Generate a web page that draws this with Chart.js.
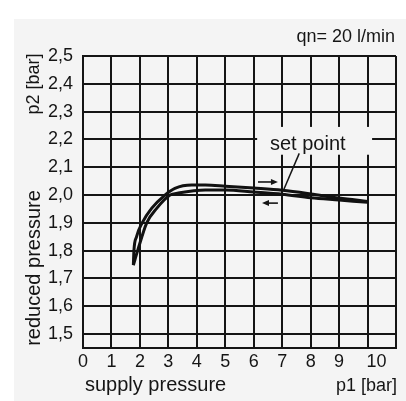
<!DOCTYPE html>
<html>
<head>
<meta charset="utf-8">
<script src="https://cdn.jsdelivr.net/npm/chart.js@4/dist/chart.umd.min.js"></script>
<style>
  html, body { margin: 0; padding: 0; background: #ffffff; }
  #wrap { width: 406px; height: 401px; position: relative; }
</style>
</head>
<body>
<div id="wrap"><canvas id="c" width="406" height="401"></canvas></div>
<script>
// Supply pressure p1 [bar] vs. reduced pressure p2 [bar], qn = 20 l/min
const xTicks = [0, 1, 2, 3, 4, 5, 6, 7, 8, 9, 10, 11];
const yTicks = [1.5, 1.6, 1.7, 1.8, 1.9, 2.0, 2.1, 2.2, 2.3, 2.4, 2.5];

// Rising supply pressure (upper branch)
const upP1 = [1.77, 1.79, 1.88, 2.08, 2.41, 2.88, 3.23, 3.82, 4.3, 5, 6, 7, 8, 9, 10];
const upP2 = [1.748, 1.80, 1.85, 1.90, 1.952, 2.0, 2.024, 2.036, 2.036, 2.032, 2.025, 2.017, 2.004, 1.989, 1.977];

// Falling supply pressure (lower branch)
const downP1 = [1.77, 1.92, 2.24, 2.59, 3.06, 3.35, 4.3, 5, 6, 7, 8, 9, 10];
const downP2 = [1.748, 1.80, 1.90, 1.952, 2.0, 2.007, 2.018, 2.018, 2.011, 2.003, 1.99, 1.982, 1.974];

const FONT = '"Liberation Sans", Arial, Helvetica, sans-serif';
const INK = '#151515';

const toPoints = (xs, ys) => xs.map((x, i) => ({ x: x, y: ys[i] }));
const comma = v => v.toFixed(1).replace('.', ',');

const decor = {
  id: 'decor',
  beforeDraw(chart) {
    const ctx = chart.ctx;
    ctx.save();
    ctx.fillStyle = '#ffffff';
    ctx.fillRect(0, 0, chart.width, chart.height);
    ctx.fillStyle = '#f4f4f4';
    ctx.fillRect(14, 19, chart.width - 14, chart.height - 19);
    ctx.restore();
  },
  afterDatasetsDraw(chart) {
    const ctx = chart.ctx;
    const xs = chart.scales.x, ys = chart.scales.y;
    const X = v => xs.getPixelForValue(v), Y = v => ys.getPixelForValue(v);
    ctx.save();

    // "set point" label on a clear patch of the grid
    ctx.fillStyle = '#f4f4f4';
    ctx.fillRect(X(6.12), Y(2.245), X(10.16) - X(6.12), Y(2.145) - Y(2.245));
    ctx.fillStyle = INK;
    ctx.font = '20px ' + FONT;
    ctx.textAlign = 'center';
    ctx.textBaseline = 'alphabetic';
    ctx.fillText('set point', X(7.9), Y(2.155) - 2);

    // leader line to the curve
    ctx.strokeStyle = INK;
    ctx.lineWidth = 1.5;
    ctx.beginPath();
    ctx.moveTo(X(7.05), Y(2.018));
    ctx.lineTo(X(7.6), Y(2.15));
    ctx.stroke();

    // direction arrows
    const arrow = (x0, x1, yv) => {
      const y = Y(yv), a = X(x0), b = X(x1);
      const dir = Math.sign(b - a);
      ctx.lineWidth = 1.6;
      ctx.beginPath();
      ctx.moveTo(a, y);
      ctx.lineTo(b - dir * 3, y);
      ctx.stroke();
      ctx.beginPath();
      ctx.moveTo(b, y);
      ctx.lineTo(b - dir * 7, y - 3);
      ctx.lineTo(b - dir * 7, y + 3);
      ctx.closePath();
      ctx.fill();
    };
    arrow(6.15, 6.85, 2.047);
    arrow(6.85, 6.29, 1.971);

    // axis captions and flow rate
    ctx.font = '18px ' + FONT;
    ctx.textAlign = 'right';
    ctx.textBaseline = 'alphabetic';
    ctx.fillText('qn= 20 l/min', 395, 42);
    ctx.fillText('p1 [bar]', 397, 391);
    ctx.font = '20px ' + FONT;
    ctx.textAlign = 'left';
    ctx.fillText('supply pressure', 85, 391);

    ctx.save();
    ctx.font = '18px ' + FONT;
    ctx.translate(39, 84);
    ctx.rotate(-Math.PI / 2);
    ctx.textAlign = 'center';
    ctx.fillText('p2 [bar]', 0, 0);
    ctx.restore();

    ctx.save();
    ctx.font = '20px ' + FONT;
    ctx.translate(40, 268);
    ctx.rotate(-Math.PI / 2);
    ctx.textAlign = 'center';
    ctx.fillText('reduced pressure', 0, 0);
    ctx.restore();

    ctx.restore();
  }
};

new Chart(document.getElementById('c'), {
  type: 'scatter',
  data: {
    datasets: [
      {
        label: 'p1 rising',
        data: toPoints(upP1, upP2),
        showLine: true,
        borderColor: '#111111',
        borderWidth: 3,
        pointRadius: 0,
        cubicInterpolationMode: 'monotone'
      },
      {
        label: 'p1 falling',
        data: toPoints(downP1, downP2),
        showLine: true,
        borderColor: '#111111',
        borderWidth: 3,
        pointRadius: 0,
        cubicInterpolationMode: 'monotone'
      }
    ]
  },
  options: {
    responsive: false,
    animation: false,
    devicePixelRatio: 1,
    layout: { padding: { left: 0, right: 10, top: 56, bottom: 0 } },
    plugins: {
      legend: { display: false },
      tooltip: { enabled: false }
    },
    scales: {
      x: {
        type: 'linear',
        min: 0,
        max: 11,
        afterBuildTicks: s => { s.ticks = xTicks.map(v => ({ value: v })); },
        afterFit: s => { s.height = 53; },
        grid: { color: INK, lineWidth: 2, drawTicks: false },
        border: { color: INK, width: 2 },
        ticks: {
          padding: 3,
          color: INK,
          font: { family: FONT, size: 18 },
          maxRotation: 0,
          autoSkip: false,
          callback: v => (v === 11 ? '' : v === 10 ? '\u200310' : String(v))
        }
      },
      y: {
        type: 'linear',
        min: 1.45,
        max: 2.5,
        afterBuildTicks: s => { s.ticks = yTicks.map(v => ({ value: v })); },
        afterFit: s => { s.width = 83; },
        grid: { color: INK, lineWidth: 2, drawTicks: false },
        border: { color: INK, width: 2 },
        ticks: {
          padding: 10,
          color: INK,
          font: { family: FONT, size: 18 },
          autoSkip: false,
          callback: v => comma(v)
        }
      }
    }
  },
  plugins: [decor]
});
</script>
</body>
</html>
